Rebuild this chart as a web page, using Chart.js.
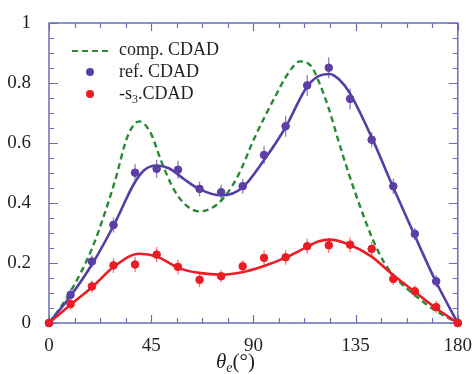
<!DOCTYPE html>
<html>
<head>
<meta charset="utf-8">
<script src="https://cdn.jsdelivr.net/npm/chart.js@4.4.1/dist/chart.umd.min.js"></script>
<style>
  html, body { margin: 0; padding: 0; background: #fff; }
  #wrap { position: relative; width: 476px; height: 374px; overflow: hidden; }
  #cdadchart { position: absolute; left: 0; top: 0; }
  .lg { position: absolute; font-family: "Liberation Serif", "Times New Roman", serif; font-size: 18px; line-height: 18px; color: #231f20; white-space: nowrap; }
  .dot { position: absolute; width: 8px; height: 8px; border-radius: 50%; }
  #xtitle { position: absolute; left: 216px; top: 351px; font-family: "Liberation Serif", "Times New Roman", serif; font-size: 21px; line-height: 21px; color: #231f20; white-space: nowrap; }
  #xtitle sub { font-size: 14px; vertical-align: -4px; }
  .lg sub { font-size: 12px; vertical-align: -4px; line-height: 0; }
</style>
</head>
<body>
<div id="wrap">
  <canvas id="cdadchart" width="476" height="374"></canvas>
  <svg style="position:absolute;left:72px;top:49px" width="38" height="4"><line x1="0" y1="2" x2="38" y2="2" stroke="#2a8a34" stroke-width="2.2" stroke-dasharray="6 4"/></svg>
  <div class="lg" style="left:119px;top:40px">comp. CDAD</div>
  <div class="dot" style="left:86px;top:68px;background:#5b3ea6"></div>
  <div class="lg" style="left:119px;top:62px">ref. CDAD</div>
  <div class="dot" style="left:86px;top:90px;background:#ec1c24"></div>
  <div class="lg" style="left:119px;top:84px">-s<sub>3</sub>.CDAD</div>
  <div id="xtitle"><i>θ<sub>e</sub></i>(°)</div>
</div>
<script>
// measured points (theta in degrees)
var thetaPts = [0, 9.5, 18.9, 28.4, 37.9, 47.4, 56.8, 66.3, 75.8, 85.3, 94.7, 104.2, 113.7, 123.2, 132.6, 142.1, 151.6, 161.1, 170.5, 180];
var refCdad = [0, 0.094, 0.205, 0.327, 0.501, 0.514, 0.511, 0.447, 0.436, 0.456, 0.56, 0.656, 0.792, 0.851, 0.747, 0.611, 0.456, 0.297, 0.139, 0];
var refErr = [0, 0.02, 0.02, 0.025, 0.03, 0.03, 0.03, 0.025, 0.025, 0.025, 0.03, 0.035, 0.035, 0.035, 0.035, 0.025, 0.025, 0.02, 0.02, 0];
var s3Cdad = [0, 0.063, 0.122, 0.192, 0.195, 0.228, 0.187, 0.144, 0.156, 0.189, 0.217, 0.219, 0.256, 0.259, 0.261, 0.247, 0.147, 0.106, 0.053, 0];
var s3Err = [0, 0.02, 0.02, 0.025, 0.025, 0.025, 0.025, 0.025, 0.02, 0.02, 0.025, 0.025, 0.025, 0.025, 0.025, 0.025, 0.02, 0.02, 0.02, 0];

// fitted curves
var refFitTheta = [0, 9.5, 19.3, 28.8, 37.5, 42, 47.4, 53, 59.4, 66, 76, 85, 94.4, 104, 113.4, 118.5, 123.6, 128, 132.4, 141.9, 151.4, 160.9, 170.3, 180];
var refFitVal = [0, 0.09, 0.2, 0.33, 0.465, 0.51, 0.525, 0.515, 0.48, 0.447, 0.425, 0.45, 0.54, 0.65, 0.785, 0.822, 0.83, 0.81, 0.767, 0.622, 0.455, 0.294, 0.139, 0];
var s3FitTheta = [0, 9.5, 19.3, 28.8, 39.7, 47.4, 57.2, 66, 76.2, 85, 94.4, 103.9, 113.4, 118.5, 123.6, 132.4, 141.9, 151.4, 160.9, 170.3, 180];
var s3FitVal = [0, 0.061, 0.122, 0.189, 0.231, 0.222, 0.183, 0.167, 0.161, 0.169, 0.189, 0.217, 0.253, 0.272, 0.278, 0.261, 0.222, 0.161, 0.105, 0.05, 0];
var compTheta = [0, 3.9, 9.5, 19.3, 28.8, 34.6, 39.7, 44.8, 49.2, 54.3, 58.7, 66, 74.7, 82.7, 90.8, 99.6, 105.4, 110.5, 115.6, 118.5, 122.9, 127.3, 132.4, 137.5, 142.6, 147.7, 153.5, 160.9, 169.6, 180];
var compVal = [0, 0.039, 0.105, 0.255, 0.467, 0.622, 0.672, 0.633, 0.544, 0.455, 0.405, 0.372, 0.4, 0.483, 0.622, 0.755, 0.833, 0.872, 0.855, 0.81, 0.722, 0.611, 0.489, 0.378, 0.278, 0.2, 0.144, 0.094, 0.044, 0];

var xTickStep = 45, xMinorStep = 11.25;
var yTickStep = 0.2, yMinorStep = 0.05;

function pairs(xs, ys) {
    return xs.map(function (x, i) { return { x: x, y: ys[i] }; });
}

var frameColor = "#6d6db9";
Chart.defaults.font.family = "Liberation Serif";

// box with inward ticks on all four sides, plus error bars
var frameTicks = {
    id: "frameTicks",
    beforeDatasetsDraw: function (chart) {
        var ctx = chart.ctx, a = chart.chartArea;
        var xs = chart.scales.x, ys = chart.scales.y;
        ctx.save();
        ctx.strokeStyle = frameColor;
        ctx.lineWidth = 1.5;
        ctx.strokeRect(a.left, a.top, a.right - a.left, a.bottom - a.top);
        ctx.lineWidth = 1.2;
        ctx.beginPath();
        for (var v = xs.min; v <= xs.max + 1e-6; v += xMinorStep) {
            var px = Math.round(xs.getPixelForValue(v)) + 0.5;
            var len = (Math.abs(v / xTickStep - Math.round(v / xTickStep)) < 1e-6) ? 8 : 5;
            ctx.moveTo(px, a.bottom); ctx.lineTo(px, a.bottom - len);
            ctx.moveTo(px, a.top); ctx.lineTo(px, a.top + len);
        }
        for (var w = ys.min; w <= ys.max + 1e-6; w += yMinorStep) {
            var py = Math.round(ys.getPixelForValue(w)) + 0.5;
            var l2 = (Math.abs(w / yTickStep - Math.round(w / yTickStep)) < 1e-6) ? 9 : 5;
            ctx.moveTo(a.left, py); ctx.lineTo(a.left + l2, py);
            ctx.moveTo(a.right, py); ctx.lineTo(a.right - l2, py);
        }
        ctx.stroke();

        // error bars
        [["#8d7fc9", refCdad, refErr], ["#f27a7a", s3Cdad, s3Err]].forEach(function (s) {
            ctx.strokeStyle = s[0];
            ctx.lineWidth = 1.3;
            ctx.beginPath();
            thetaPts.forEach(function (t, i) {
                if (!s[2][i]) return;
                var px = xs.getPixelForValue(t);
                ctx.moveTo(px, ys.getPixelForValue(s[1][i] - s[2][i]));
                ctx.lineTo(px, ys.getPixelForValue(s[1][i] + s[2][i]));
            });
            ctx.stroke();
        });
        ctx.restore();
    }
};

const chartdata = {
    datasets: [
        {
            label: "comp. CDAD",
            data: pairs(compTheta, compVal),
            showLine: true,
            borderColor: "#2a8a34",
            borderWidth: 2.4,
            borderDash: [6, 4],
            pointRadius: 0,
            cubicInterpolationMode: "monotone",
            order: 5,
        },
        {
            label: "ref. CDAD fit",
            data: pairs(refFitTheta, refFitVal),
            showLine: true,
            borderColor: "#5340a6",
            borderWidth: 2.6,
            pointRadius: 0,
            cubicInterpolationMode: "monotone",
            order: 4,
        },
        {
            label: "-s3.CDAD fit",
            data: pairs(s3FitTheta, s3FitVal),
            showLine: true,
            borderColor: "#ea1d25",
            borderWidth: 2.6,
            pointRadius: 0,
            cubicInterpolationMode: "monotone",
            order: 3,
        },
        {
            label: "ref. CDAD",
            data: pairs(thetaPts, refCdad),
            backgroundColor: "#5b3ea6",
            borderColor: "#5b3ea6",
            pointRadius: 3.8,
            pointStyle: "circle",
            order: 2,
        },
        {
            label: "-s3.CDAD",
            data: pairs(thetaPts, s3Cdad),
            backgroundColor: "#ec1c24",
            borderColor: "#ec1c24",
            pointRadius: 3.8,
            pointStyle: "circle",
            order: 1,
        },
    ],
};

const config = {
    type: "scatter",
    data: chartdata,
    options: {
        responsive: false,
        animation: false,
        clip: false,
        layout: { padding: { left: 0, right: 16, top: 23, bottom: 0 } },
        plugins: {
            legend: { display: false },
            tooltip: { enabled: false },
        },
        scales: {
            x: {
                type: "linear",
                min: 0,
                max: 180,
                grid: { display: false },
                border: { display: false },
                ticks: {
                    stepSize: xTickStep,
                    padding: 4,
                    color: "#231f20",
                    font: { family: "Liberation Serif", size: 19 },
                },
                afterFit: function (scale) { scale.height = 51; },
            },
            y: {
                min: 0,
                max: 1,
                grid: { display: false },
                border: { display: false },
                ticks: {
                    stepSize: yTickStep,
                    padding: 10,
                    color: "#231f20",
                    font: { family: "Liberation Serif", size: 19 },
                    callback: function (value) {
                        return String(parseFloat(value.toFixed(1)));
                    },
                },
                afterFit: function (scale) { scale.width = 49; },
            },
        },
    },
    plugins: [frameTicks],
};

var cdadchart = new Chart(document.getElementById("cdadchart"), config);
</script>
</body>
</html>
